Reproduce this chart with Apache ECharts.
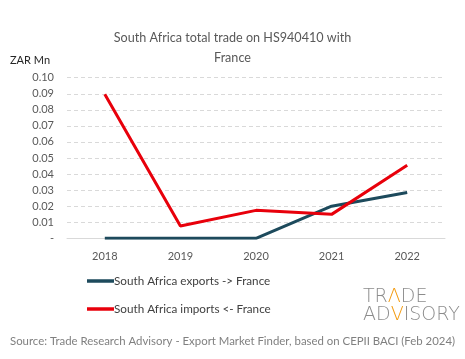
<!DOCTYPE html>
<html><head><meta charset="utf-8">
<script src="https://cdn.jsdelivr.net/npm/echarts@6/dist/echarts.min.js"></script>
<style>html,body{margin:0;padding:0;background:#fff}#c{width:465px;height:359px}</style>
</head><body><div id="c"></div>
<script>
const categories = ['2018','2019','2020','2021','2022'];
const exportsFR = [0, 0, 0, 0.020, 0.0285];
const importsFR = [0.0897, 0.0077, 0.0174, 0.0149, 0.0455];
const seriesNames = ['South Africa exports -> France','South Africa imports <- France'];
const FONT = 'Lato, "Noto Sans", sans-serif';
const chart = echarts.init(document.getElementById('c'));
chart.setOption({
  animation:false,
  backgroundColor:'#fff',
  title:{
    text:'South Africa total trade on HS940410 with\n\nFrance',
    left:'center', top:28,
    textStyle:{fontFamily:FONT,fontSize:12.6,fontWeight:'normal',color:'#595959',lineHeight:10}
  },
  grid:{left:67,right:20,top:77.7,bottom:120.7,containLabel:false},
  legend:{
    orient:'vertical', left:82, top:270, itemGap:16,
    icon:'rect', itemWidth:27, itemHeight:3.5,
    textStyle:{fontFamily:FONT,fontSize:11.7,color:'#404040',padding:[0,0,0,-5]},
    data:seriesNames
  },
  xAxis:{
    type:'category', data:categories, boundaryGap:true,
    axisLine:{lineStyle:{color:'#d9d9d9',width:1}},
    axisTick:{show:false},
    axisLabel:{fontFamily:FONT,fontSize:11,color:'#595959',margin:13}
  },
  yAxis:{
    type:'value', min:0, max:0.1, interval:0.01,
    name:'ZAR Mn', nameLocation:'end', nameGap:12,
    nameTextStyle:{fontFamily:FONT,fontSize:11,color:'#262626',align:'left',padding:[0,0,0,-57]},
    axisLine:{show:false}, axisTick:{show:false},
    splitLine:{lineStyle:{color:'#d9d9d9',type:[4,3],width:1}},
    axisLabel:{fontFamily:FONT,fontSize:11,color:'#595959',margin:13,
      formatter:v=> v===0 ? '-' : v.toFixed(2)}
  },
  series:[
    {name:seriesNames[0],type:'line',data:exportsFR,symbol:'none',
     lineStyle:{color:'#1d4a5c',width:3},itemStyle:{color:'#1d4a5c'},z:2},
    {name:seriesNames[1],type:'line',data:importsFR,symbol:'none',
     lineStyle:{color:'#e8000b',width:3},itemStyle:{color:'#e8000b'},z:3}
  ],
  graphic:[
    {type:'text',left:10,top:336,style:{text:'Source: Trade Research Advisory - Export Market Finder, based on CEPII BACI (Feb 2024)',
      font:'11.4px '+FONT,fill:'#808080'}},
    {type:'text',left:363,top:288,style:{
      text:'{g|TR}{o|Λ}{g|DE}\n{g|AD}{o|V}{g|ISORY}',
      rich:{g:{fontFamily:'"DejaVu Sans", sans-serif',fontSize:19,fontWeight:200,fill:'#8c8c8c',color:'#8c8c8c',lineHeight:18},
            o:{fontFamily:'"DejaVu Sans", sans-serif',fontSize:19,fontWeight:200,fill:'#f39c12',color:'#f39c12',lineHeight:18}}
    }}
  ]
});
</script></body></html>
